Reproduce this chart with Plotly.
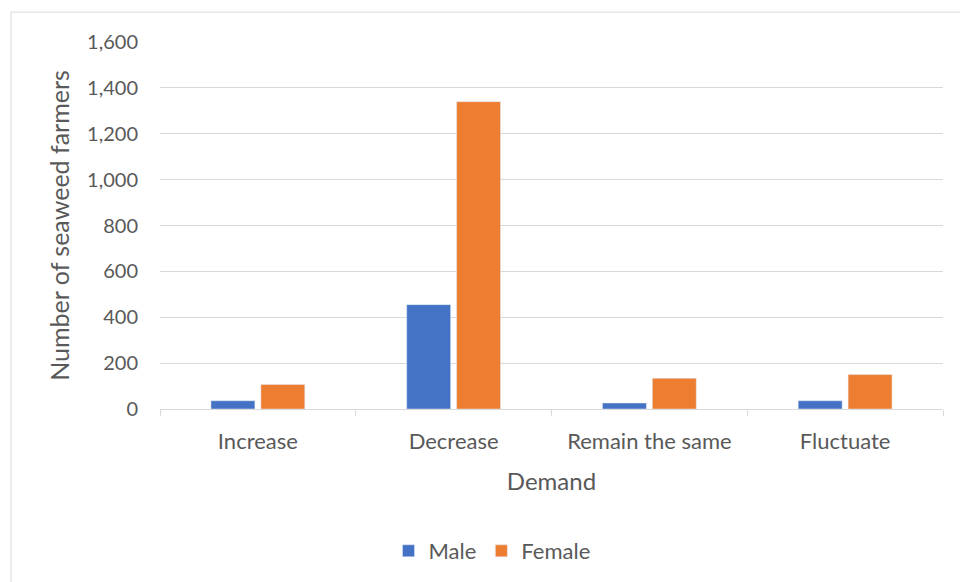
import plotly.graph_objects as go

categories = ["Increase", "Decrease", "Remain the same", "Fluctuate"]
male = [36, 455, 26, 36]
female = [107, 1340, 134, 150]
y_ticks = [0, 200, 400, 600, 800, 1000, 1200, 1400, 1600]
y_tick_labels = ["0", "200", "400", "600", "800", "1,000", "1,200", "1,400", "1,600"]

W, H = 960, 582
L, R, T, B = 160, 17, 42, 172
pw, ph = W - L - R, H - T - B

def px(x):
    return (x - L) / pw

def py(y):
    return (H - B - y) / ph

font = "Lato, Open Sans, sans-serif"
grey = "#595959"

fig = go.Figure()
fig.add_trace(go.Bar(name="Male", x=categories, y=male, marker_color="#4472C4"))
fig.add_trace(go.Bar(name="Female", x=categories, y=female, marker_color="#ED7D31"))

fig.update_layout(
    width=W, height=H,
    margin=dict(l=L, r=R, t=T, b=B),
    paper_bgcolor="white", plot_bgcolor="white",
    barmode="group", bargap=0.49, bargroupgap=0.12,
    font=dict(family=font, color=grey, size=20),
    showlegend=True,
    legend=dict(orientation="h", x=px(492), xanchor="center", y=py(551), yanchor="middle",
                font=dict(size=22, color=grey), itemwidth=30, traceorder="normal"),
    xaxis=dict(
        showgrid=False, showline=True, linecolor="#D9D9D9", linewidth=1,
        ticks="outside", tickson="boundaries", ticklen=6, tickcolor="#D9D9D9",
        ticklabelstandoff=13,
        tickfont=dict(size=22, color=grey),
        title=dict(text="Demand", font=dict(size=24, color=grey), standoff=19),
    ),
    yaxis=dict(
        range=[0, 1600], tickvals=y_ticks, ticktext=y_tick_labels,
        showgrid=True, gridcolor="#D9D9D9", gridwidth=1, zeroline=False, showline=False,
        ticks="outside", ticklen=17, tickcolor="rgba(0,0,0,0)",
        tickfont=dict(size=20, color=grey),
        title=dict(text="Number of seaweed farmers", font=dict(size=25, color=grey), standoff=10),
    ),
    shapes=[dict(type="rect", xref="paper", yref="paper",
                 x0=px(11), x1=px(975), y0=py(12), y1=py(600),
                 line=dict(color="#D9D9D9", width=1), fillcolor="rgba(0,0,0,0)", layer="below")],
)

fig.write_html("out.html")
